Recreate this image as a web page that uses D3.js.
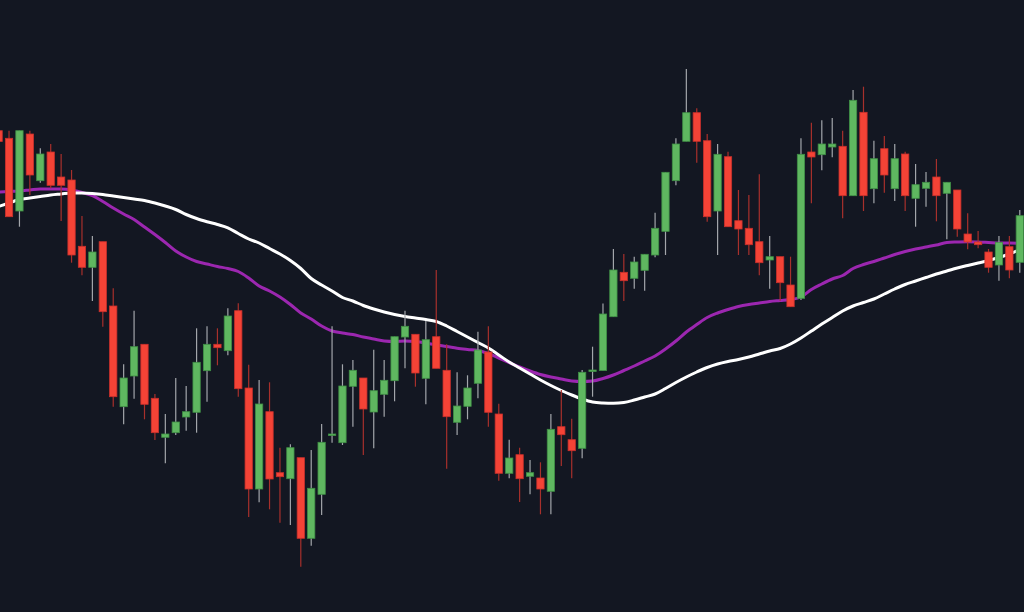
<!DOCTYPE html>
<html lang="en">
  <head>
    <meta charset="UTF-8">
    <title>Candles</title>
    <style>
      html, body {
        margin: 0;
        padding: 0;
        background: #131722;
      }
      svg { display: block; }
    </style>
  </head>
  <body>
    <svg width="1024" height="612"></svg>
    <script src="https://cdn.jsdelivr.net/npm/d3@7/dist/d3.min.js"></script>
    <script>

      // candle prices
      const opens = [481.3, 473.7, 401, 478, 431.3, 460, 435, 432, 365.7, 344.7,
        370.3, 306, 205.3, 236, 267.7, 213.7, 174.7, 179.3, 195, 199.7,
        241.3, 267.7, 261.3, 301.3, 224, 123, 200.3, 139.3, 133.3, 154.3,
        73.7, 117.7, 177.2, 169.3, 225.7, 234, 200, 217.7, 231.3, 275,
        277.7, 233.7, 275.3, 241.7, 189.7, 205.7, 228.7, 260, 198, 138.7,
        157.3, 135.7, 134, 120.7, 185.3, 172.3, 163.7, 241.2, 241.5, 295.3,
        339.7, 333.7, 341.7, 357, 380.7, 431.3, 470.7, 499.3, 471.3, 401,
        455.3, 391.3, 383.7, 370.3, 352, 355.3, 327, 313.7, 460, 457.3,
        465, 465.7, 416.3, 499.7, 423.3, 463.3, 423.3, 458, 413.7, 423.7,
        435, 418.7, 422, 378, 370, 360, 347, 365.3, 349.7]
      const highs = [483, 481.3, 481.3, 481.3, 463.7, 468, 458, 442, 396, 376,
        370.3, 323.7, 247.7, 301.3, 267.7, 218, 198, 234, 226, 283.7,
        285.7, 283.7, 303.7, 308.7, 247.3, 232, 229.7, 164.3, 167.7, 154.3,
        162, 188, 285.7, 247.7, 252, 234, 262.3, 252, 275.3, 301.3,
        277.7, 291, 342, 267.7, 239.7, 236.7, 280.3, 285.7, 208.3, 172.3,
        164.3, 152, 149.7, 198, 222, 193.3, 242, 265.3, 308.5, 363,
        358, 355.3, 357.7, 399.3, 439.7, 473.7, 543, 503.7, 478, 468,
        460.3, 422, 417, 437.7, 376, 355.3, 355.3, 473.7, 489.3, 491.7,
        494, 481.3, 522, 525.3, 471.3, 476, 468, 460.3, 448, 440,
        453, 429.7, 422, 398.7, 381, 363, 376, 376, 402]
      const lows = [467, 395.3, 385.3, 417, 429.3, 423.7, 391, 349.3, 336.7, 311,
        285.3, 205.3, 187.7, 213.3, 192.7, 172, 148.7, 177, 181.3, 179.3,
        210.3, 246.7, 256.7, 215.3, 95, 109.7, 102.7, 89.3, 87, 45.3,
        66.3, 97, 169.3, 167, 185.3, 157, 163.7, 195.3, 210.7, 243.7,
        225.3, 207.7, 243.7, 143.3, 177, 192.7, 213.7, 185.3, 131.3, 133.7,
        110, 117.7, 97.7, 97.7, 146, 133.7, 153.7, 215.3, 241.5, 295.3,
        311, 323.3, 321.3, 354.7, 357, 426.7, 470.7, 449.3, 390.3, 357,
        385.3, 357, 357, 336.7, 323.3, 311.3, 305.3, 312, 408.7, 441.7,
        454.7, 393.7, 416.3, 401, 408.7, 419.3, 411, 401, 385.3, 405.3,
        390.7, 372.7, 375.3, 362.7, 363.7, 339.3, 331.3, 333.7, 339.3]
      const closes = [470.5, 395.3, 481.3, 437, 458, 426.7, 426.7, 357, 344.7, 360,
        300.3, 215.3, 234, 265.3, 207.7, 179.3, 178, 190, 200.3, 249.7,
        267.7, 264.3, 296, 223.3, 123, 208, 133, 135.3, 164.3, 73.7,
        123.7, 169.7, 178, 226, 241.7, 203, 221.3, 231.7, 275.3, 285.7,
        239, 272.3, 243.7, 195.3, 206, 224, 262, 199.7, 138.7, 154,
        133.3, 139.3, 123, 182.7, 177.3, 161.3, 239.7, 242, 298, 342,
        331.3, 350, 357.7, 383.7, 439.7, 468, 499.3, 470.7, 395.3, 457.7,
        385.3, 383, 367.3, 349.3, 355.3, 329.3, 305.3, 457.7, 455, 468,
        468, 416.3, 511.7, 416.3, 453.3, 437, 453.3, 416.3, 427.3, 429.7,
        416.3, 429.7, 383, 370, 367.3, 344.7, 369.7, 342, 396.3]

      // moving averages
      const maFast = [420, 420.5, 421, 422, 423, 423, 423, 422, 419.5, 416.5,
        410.5, 404, 398, 392.5, 385, 377.5, 369.5, 361, 355, 350.5,
        348, 345.5, 343.5, 340.5, 334, 326, 321, 315, 307.5, 299,
        293, 286, 281, 279, 277.5, 275, 273, 271, 270.5, 271,
        270.5, 269, 267, 265.5, 263.7, 262.5, 261.5, 258.5, 254, 249.5,
        245, 241, 237.5, 235, 233, 231, 230.5, 231, 233.5, 237,
        241.5, 246, 251, 256, 263, 271, 280, 287.5, 294.5, 299,
        302.5, 305.5, 307.5, 309, 310.5, 311.5, 312.5, 315, 322.5, 328,
        333, 336.5, 343.5, 347.5, 350.5, 354, 357.5, 360.5, 363, 365,
        367, 369.5, 370, 370.3, 370, 369.5, 369, 369, 368.7]
      const maSlow = [405.5, 409, 412.5, 414, 415.5, 417, 418, 419, 419, 418.5,
        417.5, 416, 414.5, 413, 411.5, 409, 406, 402.5, 397.5, 393.5,
        390.3, 387.5, 384.2, 378.5, 373, 369, 363.5, 358, 351.5, 343.5,
        333.5, 327, 321, 314.5, 311, 306.5, 303, 300, 297.5, 295.5,
        294, 292.5, 290.5, 286, 280.5, 275, 269.5, 264, 257, 250,
        244, 238, 232, 226.5, 221.5, 217, 213, 210, 209, 208.7,
        209.5, 212, 215, 218, 223.5, 229.5, 235, 240, 244.5, 248,
        250.5, 252.5, 255, 258, 261, 263.5, 268, 274, 281, 288,
        294.5, 301, 306, 309.5, 313, 318, 323, 327.5, 331, 334.5,
        338, 341, 344, 346.5, 349, 351.5, 354.5, 358, 362.5]

      const svg = d3.select('svg'),
        width = +svg.attr('width'),
        height = +svg.attr('height')

      const data = opens.map(function (o, i) {
        return { i: i, o: o, h: highs[i], l: lows[i], c: closes[i] }
      })

      const x = d3.scaleBand()
        .domain(d3.range(data.length))
        .range([-6.6, 1025])
        .paddingInner(0.3)
        .paddingOuter(0.15)

      const y = d3.scaleLinear()
        .domain([0, height])
        .range([height, 0])

      const cx = function (i) { return x(i) + x.bandwidth() / 2 }

      // moving average lines go under the candles
      const line = function (arr) {
        return d3.line()
          .x(function (d, i) { return cx(i) })
          .y(function (d) { return y(d) })
          .curve(d3.curveMonotoneX)(arr)
      }

      svg.append('path')
        .attr('d', line(maFast))
        .attr('fill', 'none')
        .attr('stroke', '#9c27b0')
        .attr('stroke-width', 3)

      svg.append('path')
        .attr('d', line(maSlow))
        .attr('fill', 'none')
        .attr('stroke', '#ffffff')
        .attr('stroke-width', 3)

      const candle = svg.append('g').selectAll('g')
        .data(data)
        .enter().append('g')

      candle.append('line')
        .attr('x1', function (d) { return cx(d.i) })
        .attr('x2', function (d) { return cx(d.i) })
        .attr('y1', function (d) { return y(d.h) })
        .attr('y2', function (d) { return y(d.l) })
        .attr('stroke', function (d) { return d.c >= d.o ? '#a3a6ab' : '#a8302c' })
        .attr('stroke-width', 1.2)

      candle.append('rect')
        .attr('x', function (d) { return x(d.i) })
        .attr('width', x.bandwidth())
        .attr('y', function (d) { return y(Math.max(d.o, d.c)) })
        .attr('height', function (d) { return Math.max(1.5, Math.abs(y(d.o) - y(d.c))) })
        .attr('fill', function (d) { return d.c >= d.o ? '#5fb760' : '#f44336' })
        .attr('stroke', function (d) { return d.c >= d.o ? '#3f8f45' : '#c9302c' })
        .attr('stroke-width', 0.8)

    </script>
  </body>
</html>
